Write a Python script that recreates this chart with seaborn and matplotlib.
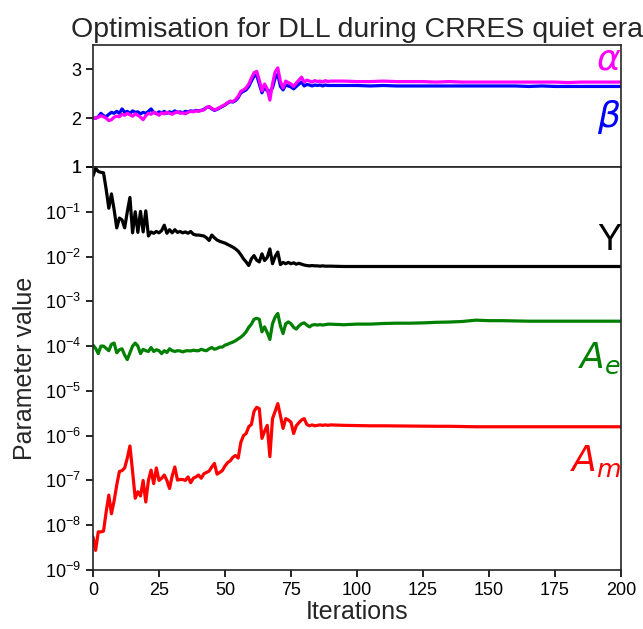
import numpy as np
import pandas as pd
import matplotlib
matplotlib.use("Agg")
import matplotlib.pyplot as plt
from matplotlib.ticker import FixedLocator, FuncFormatter, NullLocator
import seaborn as sns

# Iteration numbers: every step up to 90, then every fifth step
iterations = list(range(0, 91)) + list(range(95, 201, 5))

alpha = [
    2.00, 2.00, 2.02, 2.05, 2.03, 2.00, 1.95, 1.97, 2.02, 2.04,
    2.03, 2.08, 2.06, 2.10, 2.07, 2.04, 2.09, 2.06, 2.02, 1.97,
    2.05, 2.10, 2.08, 2.12, 2.10, 2.06, 2.11, 2.09, 2.12, 2.10,
    2.08, 2.11, 2.13, 2.10, 2.11, 2.09, 2.12, 2.14, 2.13, 2.15,
    2.14, 2.16, 2.17, 2.22, 2.24, 2.20, 2.17, 2.19, 2.22, 2.25,
    2.28, 2.32, 2.35, 2.34, 2.38, 2.45, 2.55, 2.58, 2.62, 2.70,
    2.82, 2.93, 2.96, 2.78, 2.56, 2.70, 2.60, 2.37, 2.70, 2.95,
    3.03, 2.75, 2.62, 2.76, 2.73, 2.70, 2.65, 2.72, 2.78, 2.84,
    2.74, 2.78, 2.76, 2.74, 2.77, 2.75, 2.76, 2.74, 2.77, 2.75,
    2.76,
    2.76, 2.75, 2.75, 2.76, 2.75, 2.75, 2.75, 2.74, 2.75, 2.74, 2.74,
    2.74, 2.74, 2.74, 2.74, 2.74, 2.74, 2.73, 2.74, 2.74, 2.74, 2.74,
]

beta = [
    2.00, 2.00, 2.03, 2.10, 2.05, 2.03, 2.08, 2.12, 2.10, 2.14,
    2.10, 2.19, 2.12, 2.14, 2.10, 2.15, 2.12, 2.13, 2.09, 2.12,
    2.10, 2.14, 2.19, 2.12, 2.09, 2.13, 2.11, 2.14, 2.10, 2.13,
    2.11, 2.15, 2.12, 2.13, 2.11, 2.14, 2.13, 2.15, 2.14, 2.16,
    2.15, 2.16, 2.18, 2.22, 2.23, 2.19, 2.16, 2.18, 2.21, 2.24,
    2.27, 2.31, 2.34, 2.33, 2.36, 2.42, 2.52, 2.55, 2.58, 2.65,
    2.76, 2.86, 2.88, 2.70, 2.52, 2.64, 2.56, 2.55, 2.62, 2.82,
    2.90, 2.65, 2.58, 2.68, 2.66, 2.64, 2.60, 2.65, 2.70, 2.74,
    2.66, 2.69, 2.68, 2.66, 2.68, 2.67, 2.68, 2.66, 2.68, 2.67,
    2.67,
    2.67, 2.67, 2.66, 2.67, 2.66, 2.66, 2.66, 2.66, 2.66, 2.66, 2.66,
    2.66, 2.66, 2.66, 2.65, 2.66, 2.65, 2.65, 2.65, 2.65, 2.65, 2.65,
]

upsilon = [
    0.631, 0.933, 0.794, 0.759, 0.741, 0.316, 0.120, 0.251, 0.112, 0.0437,
    0.0724, 0.0661, 0.0437, 0.100, 0.209, 0.0339, 0.100, 0.0347, 0.102, 0.0355,
    0.105, 0.0288, 0.0355, 0.0331, 0.0363, 0.0339, 0.0380, 0.0501, 0.0331, 0.0398,
    0.0339, 0.0398, 0.0347, 0.0363, 0.0339, 0.0355, 0.0331, 0.0363, 0.0316, 0.0302,
    0.0302, 0.0295, 0.0288, 0.0263, 0.0229, 0.0302, 0.0263, 0.0234, 0.0219, 0.0209,
    0.0200, 0.0186, 0.0174, 0.0162, 0.0148, 0.0132, 0.0110, 0.00891, 0.00759, 0.00631,
    0.00891, 0.0105, 0.00832, 0.00759, 0.0115, 0.00813, 0.00955, 0.0148, 0.00692, 0.0100,
    0.0126, 0.00661, 0.00741, 0.00692, 0.00741, 0.00692, 0.00724, 0.00676, 0.00708, 0.00676,
    0.00646, 0.0063, 0.0062, 0.0063, 0.0062, 0.0062, 0.0061, 0.0062, 0.0061, 0.0061,
    0.0061,
    0.0060, 0.0060, 0.0060, 0.0060, 0.0060, 0.0060, 0.0060, 0.0060, 0.0060, 0.0060, 0.0060,
    0.0060, 0.0060, 0.0060, 0.0060, 0.0060, 0.0060, 0.0060, 0.0060, 0.0060, 0.0060, 0.0060,
]

a_e = [
    1.05e-4, 8.9e-5, 6.8e-5, 1.0e-4, 1.0e-4, 8.9e-5, 7.9e-5, 1.1e-4, 1.17e-4, 7.1e-5,
    8.3e-5, 8.7e-5, 6.3e-5, 5.0e-5, 7.1e-5, 1.0e-4, 1.17e-4, 1.0e-4, 6.8e-5, 8.5e-5,
    7.9e-5, 7.6e-5, 9.3e-5, 7.6e-5, 8.3e-5, 7.9e-5, 6.8e-5, 7.9e-5, 7.2e-5, 8.7e-5,
    7.9e-5, 7.6e-5, 7.9e-5, 7.8e-5, 7.4e-5, 7.8e-5, 7.9e-5, 7.8e-5, 8.1e-5, 7.9e-5,
    7.9e-5, 8.5e-5, 8.1e-5, 7.9e-5, 8.7e-5, 9.3e-5, 8.5e-5, 8.9e-5, 9.5e-5, 9.5e-5,
    1.05e-4, 1.1e-4, 1.17e-4, 1.23e-4, 1.32e-4, 1.45e-4, 1.58e-4, 1.78e-4, 2.09e-4, 2.63e-4,
    3.09e-4, 3.98e-4, 4.17e-4, 3.98e-4, 2.09e-4, 2.69e-4, 2.0e-4, 1.41e-4, 3.16e-4, 4.47e-4,
    5.37e-4, 2.82e-4, 1.91e-4, 3.16e-4, 3.47e-4, 3.16e-4, 2.63e-4, 2.4e-4, 2.82e-4, 3.16e-4,
    3.31e-4, 2.95e-4, 2.69e-4, 2.95e-4, 3.02e-4, 2.95e-4, 3.02e-4, 2.95e-4, 3.02e-4, 3.09e-4,
    3.09e-4,
    3.0e-4, 3.1e-4, 3.1e-4, 3.2e-4, 3.25e-4, 3.25e-4, 3.3e-4, 3.4e-4, 3.45e-4, 3.55e-4, 3.8e-4,
    3.7e-4, 3.7e-4, 3.65e-4, 3.6e-4, 3.6e-4, 3.6e-4, 3.6e-4, 3.6e-4, 3.6e-4, 3.6e-4, 3.6e-4,
]

a_m = [
    5.5e-9, 2.75e-9, 7.1e-9, 7.1e-9, 7.4e-9, 2.0e-8, 4.7e-8, 1.8e-8, 3.5e-8, 7.9e-8,
    1.58e-7, 1.66e-7, 1.9e-7, 3.16e-7, 5.9e-7, 1.58e-7, 4.0e-8, 5.6e-8, 4.5e-8, 1.0e-7,
    3.3e-8, 1.0e-7, 1.7e-7, 8.5e-8, 1.9e-7, 1.0e-7, 1.12e-7, 1.32e-7, 1.0e-7, 6.6e-8,
    1.26e-7, 2.0e-7, 1.02e-7, 1.05e-7, 1.05e-7, 1.0e-7, 1.2e-7, 8.9e-8, 1.12e-7, 1.2e-7,
    1.32e-7, 1.12e-7, 1.41e-7, 1.51e-7, 1.62e-7, 2.0e-7, 2.4e-7, 1.38e-7, 1.51e-7, 1.66e-7,
    2.1e-7, 2.5e-7, 2.75e-7, 3.3e-7, 3.6e-7, 3.16e-7, 7.1e-7, 1.0e-6, 1.12e-6, 1.58e-6,
    1.78e-6, 3.5e-6, 4.3e-6, 4.0e-6, 8.7e-7, 1.26e-6, 1.7e-6, 3.4e-7, 2.4e-6, 3.5e-6,
    5.2e-6, 2.8e-6, 1.45e-6, 2.4e-6, 2.24e-6, 2.0e-6, 1.12e-6, 1.66e-6, 1.95e-6, 2.24e-6,
    2.4e-6, 1.78e-6, 1.66e-6, 1.74e-6, 1.66e-6, 1.7e-6, 1.74e-6, 1.7e-6, 1.74e-6, 1.7e-6,
    1.74e-6,
    1.7e-6, 1.68e-6, 1.66e-6, 1.66e-6, 1.65e-6, 1.64e-6, 1.63e-6, 1.62e-6, 1.62e-6, 1.6e-6, 1.58e-6,
    1.58e-6, 1.58e-6, 1.58e-6, 1.58e-6, 1.58e-6, 1.58e-6, 1.58e-6, 1.58e-6, 1.58e-6, 1.58e-6, 1.58e-6,
]

x_ticks = [0, 25, 50, 75, 100, 125, 150, 175, 200]
top_ticks = [1, 2, 3]
log_ticks = [1e-9, 1e-8, 1e-7, 1e-6, 1e-5, 1e-4, 1e-3, 1e-2, 1e-1, 1]

sns.set_theme(style="ticks")
plt.rcParams["font.family"] = ["Liberation Sans", "DejaVu Sans"]
plt.rcParams["mathtext.fontset"] = "dejavusans"
plt.rcParams["axes.linewidth"] = 1.2
plt.rcParams["xtick.major.width"] = 1.2
plt.rcParams["ytick.major.width"] = 1.2
plt.rcParams["xtick.major.size"] = 5
plt.rcParams["ytick.major.size"] = 5

top_df = pd.DataFrame({
    "Iterations": iterations * 2,
    "value": beta + alpha,
    "param": ["beta"] * len(beta) + ["alpha"] * len(alpha),
})
bot_df = pd.DataFrame({
    "Iterations": iterations * 3,
    "value": upsilon + a_e + a_m,
    "param": ["Y"] * len(upsilon) + ["Ae"] * len(a_e) + ["Am"] * len(a_m),
})

fig = plt.figure(figsize=(6.43, 6.29), dpi=100)
ax_top = fig.add_axes([0.1446, 0.7345, 0.8212, 0.194])
ax_bot = fig.add_axes([0.1446, 0.0938, 0.8212, 0.6407])

sns.lineplot(data=top_df, x="Iterations", y="value", hue="param",
             palette={"beta": "#0000ff", "alpha": "#ff00ff"},
             linewidth=2.3, legend=False, sort=False, ax=ax_top)

ax_bot.set_yscale("log")
sns.lineplot(data=bot_df, x="Iterations", y="value", hue="param",
             palette={"Y": "black", "Ae": "#008000", "Am": "#ff0000"},
             linewidth=2.3, legend=False, sort=False, ax=ax_bot)

for ax in (ax_top, ax_bot):
    ax.set_xlim(0, 200)
    for side in ("top", "right"):
        ax.spines[side].set_visible(True)
    ax.tick_params(labelsize=13, colors="black")

ax_top.set_ylim(1, 3.5)
ax_top.yaxis.set_major_locator(FixedLocator(top_ticks))
ax_top.set_xticks(x_ticks)
ax_top.tick_params(axis="x", bottom=False, labelbottom=False)
ax_top.set_xlabel("")
ax_top.set_ylabel("")
ax_top.set_title("Optimisation for DLL during CRRES quiet era", fontsize=20.5, pad=6)

ax_bot.set_ylim(1e-9, 1)
ax_bot.yaxis.set_major_locator(FixedLocator(log_ticks))
ax_bot.yaxis.set_minor_locator(NullLocator())
ax_bot.yaxis.set_major_formatter(FuncFormatter(
    lambda v, pos: "1" if v == 1 else r"$\mathdefault{10^{%d}}$" % round(np.log10(v))))
ax_bot.set_xticks(x_ticks)
ax_bot.set_xlabel("Iterations", fontsize=18, labelpad=1)
ax_bot.set_ylabel("Parameter value", fontsize=18, labelpad=6)

lbl = dict(ha="right", va="center", fontsize=26)
ax_top.text(1.0, 0.88, r"$\alpha$", color="#ff00ff", transform=ax_top.transAxes, **lbl)
ax_top.text(1.0, 0.41, r"$\beta$", color="#0000ff", transform=ax_top.transAxes, **lbl)
ax_bot.text(1.0, 0.818, "Y", color="black", transform=ax_bot.transAxes, **lbl)
ax_bot.text(1.0, 0.525, r"$A_e$", color="#008000", transform=ax_bot.transAxes, **lbl)
ax_bot.text(1.0, 0.27, r"$A_m$", color="#ff0000", transform=ax_bot.transAxes, **lbl)

fig.savefig("out.png", dpi=100)
